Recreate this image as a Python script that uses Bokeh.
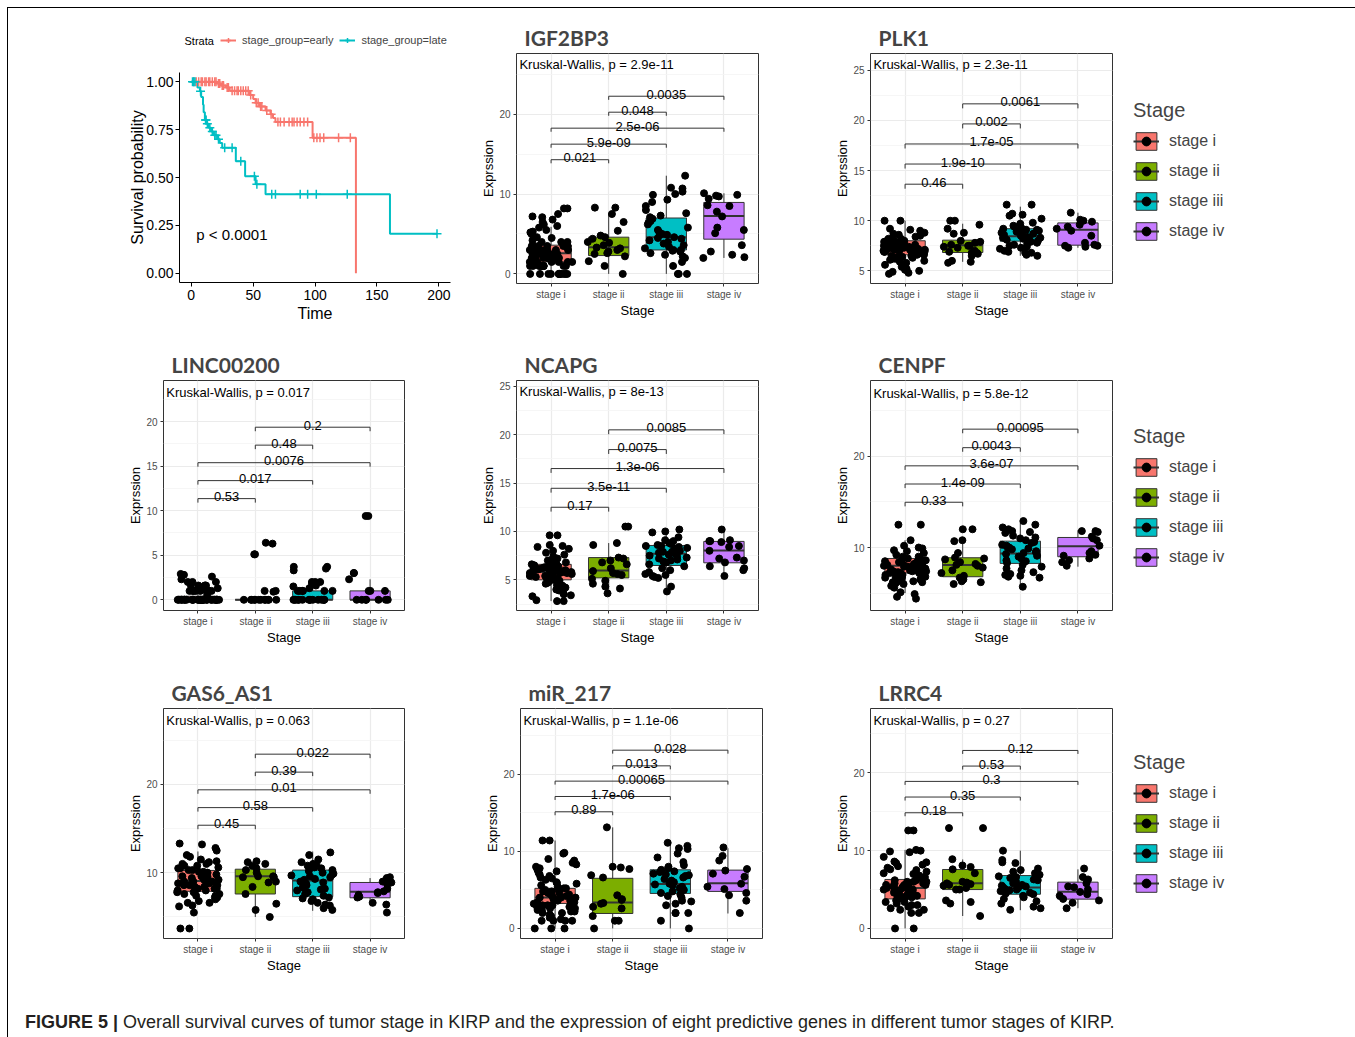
from bokeh.plotting import figure
from bokeh.models import (ColumnDataSource, FactorRange, Range1d, FixedTicker, Legend,
                          LegendItem, Div, Label, NumeralTickFormatter, Spacer)
from bokeh.layouts import row, column
from bokeh.transform import jitter, dodge
from bokeh.embed import file_html
from bokeh.resources import INLINE
from bokeh.core.properties import value

# ------------------------------------------------------------------ data
STAGES = ["stage i", "stage ii", "stage iii", "stage iv"]
STAGE_COLORS = ["#F8766D", "#7CAE00", "#00BFC4", "#C77CFF"]
PAIRS = [("stage i", "stage ii"), ("stage i", "stage iii"), ("stage i", "stage iv"),
         ("stage ii", "stage iii"), ("stage ii", "stage iv")]

# Kaplan-Meier curves (time, survival after the step)
early_time = [0, 21, 24, 28, 31, 47, 50, 52, 55, 60, 64, 66, 68, 98, 133]
early_surv = [1.0, 0.99, 0.98, 0.97, 0.953, 0.93, 0.91, 0.89, 0.87, 0.85, 0.83, 0.81, 0.79, 0.707, 0.0]
early_cens = [2, 4, 6, 8, 9, 11, 12, 14, 15, 17, 19, 20, 22, 23, 25, 26, 29, 30, 33, 35, 37, 38, 40,
              42, 44, 46, 48, 52.5, 54, 56, 57, 61, 64.5, 70, 72, 75, 79, 81.5, 83, 85.5, 88, 91, 94,
              99, 101.5, 104, 107, 119, 128.5]
late_time = [0, 5, 7, 8, 9.5, 10, 11, 12.5, 14, 16, 18, 21, 23, 25, 36, 43.5, 52, 60, 160.5, 198.5]
late_surv = [1.0, 0.97, 0.95, 0.92, 0.88, 0.84, 0.80, 0.78, 0.76, 0.74, 0.72, 0.70, 0.68, 0.655,
             0.585, 0.507, 0.465, 0.412, 0.206, 0.206]
late_cens = [1, 2, 3, 7.5, 11.5, 12, 13, 15, 17, 19, 20, 22, 27, 33, 40, 51, 53, 65, 68, 88, 94,
             101, 126, 198.5]
km_pval = "p < 0.0001"
km_groups = ["stage_group=early", "stage_group=late"]

# ---- IGF2BP3
IGF2BP3_i = [0, 0, 0, 0, 0, 0, 0, 0, 0, 0, 0, 0, 1, 1, 1, 1, 1, 1, 1, 1, 1, 1, 1.5, 1.5, 1.5, 1.5, 1.5, 1.5,
             2, 2, 2, 2, 2, 2, 2, 2, 2, 2, 2.5, 2.5, 2.5, 2.5, 2.5, 2.5, 2.5, 2.5, 3, 3, 3, 3, 3, 3, 3, 3, 3, 3,
             3.5, 3.5, 3.5, 3.5, 3.5, 3.5, 3.5, 3.5, 4, 4, 4, 4.2, 4.5, 4.6, 5, 5.2, 5.3, 5.5, 5.8, 6,
             6.2, 6.5, 6.8, 7.1, 7.2, 7.5, 8.2, 8.2]
IGF2BP3_ii = [8.3, 8.3, 7.5, 6.5, 5.4, 4.8, 4.6, 4.4, 4.0, 3.9, 3.6, 3.3, 3.2, 3.0, 2.8, 2.6, 2.5, 2.2,
              1.6, 1.0, 0.0]
IGF2BP3_iii = [12.3, 10.8, 10.7, 10.3, 10.0, 9.9, 9.3, 9.0, 8.5, 8.0, 7.6, 7.3, 7.1, 6.9, 6.6, 6.4, 6.2,
               5.8, 5.5, 5.2, 5.0, 4.9, 4.6, 4.5, 4.4, 4.2, 4.0, 3.8, 3.6, 3.4, 3.2, 3.0, 3.0, 2.9, 2.8,
               2.6, 2.4, 2.2, 2.0, 1.5, 1.0, 0, 0, 0]
IGF2BP3_iv = [10.1, 9.9, 9.8, 9.7, 9.4, 8.6, 8.5, 7.8, 7.2, 5.8, 5.5, 5.1, 3.6, 2.8, 2.4, 2.1, 2.0]
IGF2BP3_stats = dict(lo=[0, 0, 0, 2.0], q1=[1.5, 2.3, 3.0, 4.35], med=[2.6, 3.35, 4.6, 7.25],
                     q3=[3.6, 4.6, 7.0, 8.95], hi=[5.9, 7.45, 12.3, 10.1])
IGF2BP3_kw = ("Kruskal-Wallis, p = 2.9e-11", 26.2)
IGF2BP3_br_y = [14.3, 16.25, 18.25, 20.25, 22.25]
IGF2BP3_br_p = ["0.021", "5.9e-09", "2.5e-06", "0.048", "0.0035"]

# ---- PLK1
PLK1_i = [4.7, 4.8, 4.9, 5.0, 5.1, 5.2, 5.4, 5.5, 5.6, 5.8, 5.9, 6.0, 6.1, 6.2, 6.2, 6.3, 6.4, 6.4, 6.5,
          6.5, 6.6, 6.6, 6.6, 6.7, 6.8, 6.8, 6.8, 6.9, 6.9, 6.9, 7.0, 7.0, 7.0, 7.0, 7.1, 7.1, 7.1, 7.2,
          7.2, 7.2, 7.2, 7.3, 7.3, 7.3, 7.3, 7.4, 7.4, 7.4, 7.5, 7.5, 7.5, 7.5, 7.6, 7.6, 7.6, 7.7, 7.7,
          7.7, 7.8, 7.8, 7.8, 7.9, 7.9, 8.0, 8.0, 8.0, 8.1, 8.1, 8.2, 8.2, 8.4, 8.5, 8.6, 8.7, 8.8,
          9.0, 9.1, 9.2, 10.0, 10.0]
PLK1_ii = [10.0, 10.0, 9.6, 9.2, 8.8, 8.7, 8.0, 7.9, 7.8, 7.6, 7.5, 7.5, 7.4, 7.3, 7.0, 6.9, 6.8, 6.8,
           6.7, 6.5, 6.0, 5.9, 5.8]
PLK1_iii = [11.6, 11.6, 10.7, 10.6, 10.5, 10.2, 9.8, 9.7, 9.5, 9.4, 9.3, 9.2, 9.1, 9.1, 9.0, 8.9, 8.8,
            8.7, 8.7, 8.6, 8.5, 8.4, 8.3, 8.3, 8.2, 8.2, 8.1, 8.0, 7.9, 7.8, 7.7, 7.6, 7.5, 7.4, 7.3,
            7.2, 7.0, 6.9, 6.8, 6.8, 6.6, 6.5]
PLK1_iv = [10.8, 10.1, 10.0, 9.9, 9.6, 9.4, 9.2, 9.0, 8.5, 7.8, 7.6, 7.5, 7.5, 7.4, 7.3]
PLK1_stats = dict(lo=[4.7, 5.9, 6.5, 7.3], q1=[6.6, 6.83, 7.96, 7.56], med=[7.3, 7.56, 8.46, 9.1],
                  q3=[8.0, 8.06, 9.2, 9.78], hi=[10.0, 9.7, 11.4, 10.8])
PLK1_kw = ("Kruskal-Wallis, p = 2.3e-11", 25.6)
PLK1_br_y = [13.64, 15.65, 17.65, 19.65, 21.65]
PLK1_br_p = ["0.46", "1.9e-10", "1.7e-05", "0.002", "0.0061"]

# ---- LINC00200
LINC00200_i = [0, 0, 0, 0, 0, 0, 0, 0, 0, 0, 0, 0, 0, 0, 0, 0, 0, 0, 0, 0, 0, 0, 0, 0, 0, 0, 0, 0, 0, 0,
               1.0, 1.0, 1.0, 1.0, 1.0, 1.0, 1.0, 1.0, 1.0, 1.0, 1.6, 1.6, 1.6, 1.6, 1.6, 2.0, 2.0, 2.0,
               0.5, 1.3, 2.3, 2.6, 2.8, 2.9]
LINC00200_ii = [0, 0, 0, 0, 0, 0, 0, 0, 0, 0, 0, 0, 1.0, 1.0, 0.9, 5.1, 5.1, 6.3, 6.4]
LINC00200_iii = [0, 0, 0, 0, 0, 0, 0, 0, 0, 0, 0, 0, 0, 0, 0, 1.0, 1.0, 1.0, 1.0, 1.0, 1.0, 1.3, 1.5,
                 1.6, 1.8, 2.0, 2.0, 2.0, 3.3, 3.5, 3.7, 3.7]
LINC00200_iv = [9.4, 9.4, 3.0, 3.0, 2.3, 1.0, 1.0, 1.0, 0, 0, 0, 0, 0, 0, 0]
LINC00200_stats = dict(lo=[0, 0, 0, 0], q1=[0, 0, 0, 0], med=[0, 0, 0, 0],
                       q3=[0.4, 0, 1.0, 1.0], hi=[1.0, 0, 2.3, 2.3])
LINC00200_kw = ("Kruskal-Wallis, p = 0.017", 23.3)
LINC00200_br_y = [11.35, 13.37, 15.38, 17.35, 19.36]
LINC00200_br_p = ["0.53", "0.017", "0.0076", "0.48", "0.2"]

# ---- NCAPG
NCAPG_i = [2.8, 2.8, 2.9, 3.3, 3.4, 3.5, 3.6, 3.9, 4.0, 4.2, 4.4, 4.5, 4.6, 4.7, 4.8, 4.9, 5.0, 5.0, 5.0,
           5.1, 5.2, 5.2, 5.3, 5.3, 5.4, 5.4, 5.5, 5.5, 5.5, 5.6, 5.6, 5.7, 5.7, 5.7, 5.8, 5.8, 5.8,
           5.9, 5.9, 5.9, 6.0, 6.0, 6.0, 6.1, 6.1, 6.2, 6.2, 6.2, 6.3, 6.3, 6.4, 6.4, 6.5, 6.5, 6.6,
           6.6, 6.8, 6.8, 7.0, 7.0, 7.2, 7.4, 7.6, 7.8, 8.0, 8.2, 8.4, 8.5, 8.6, 9.6, 9.6]
NCAPG_ii = [10.5, 10.5, 8.8, 8.6, 7.3, 7.2, 7.0, 6.8, 6.6, 6.2, 5.9, 5.7, 5.6, 5.5, 5.1, 4.9, 4.6, 4.3,
            4.1, 3.6]
NCAPG_iii = [10.2, 10.0, 9.9, 9.4, 9.1, 9.0, 8.8, 8.7, 8.6, 8.5, 8.5, 8.4, 8.3, 8.2, 8.1, 8.0, 7.9, 7.9,
             7.8, 7.7, 7.6, 7.5, 7.4, 7.3, 7.2, 7.1, 7.0, 6.9, 6.8, 6.6, 6.4, 6.2, 6.0, 5.8, 5.6, 5.5,
             5.4, 5.3, 5.2, 4.3, 3.8]
NCAPG_iv = [10.2, 9.1, 9.0, 9.0, 8.9, 8.5, 8.4, 8.0, 7.3, 7.2, 7.0, 6.8, 6.4, 6.2, 6.0, 5.4]
NCAPG_stats = dict(lo=[2.8, 3.65, 3.9, 5.5], q1=[5.0, 5.2, 6.48, 6.76], med=[5.8, 5.97, 7.7, 8.03],
                   q3=[6.6, 7.3, 8.55, 8.97], hi=[9.0, 8.8, 10.0, 10.1])
NCAPG_kw = ("Kruskal-Wallis, p = 8e-13", 24.45)
NCAPG_br_y = [12.5, 14.46, 16.5, 18.46, 20.5]
NCAPG_br_p = ["0.17", "3.5e-11", "1.3e-06", "0.0075", "0.0085"]

# ---- CENPF
CENPF_i = [4.4, 4.6, 4.9, 5.1, 5.6, 5.8, 6.0, 6.1, 6.2, 6.2, 6.3, 6.3, 6.5, 6.5, 6.7, 6.7, 6.8, 6.8, 7.0,
           7.0, 7.0, 7.1, 7.1, 7.2, 7.2, 7.2, 7.3, 7.3, 7.4, 7.4, 7.4, 7.5, 7.5, 7.5, 7.6, 7.6, 7.6,
           7.7, 7.7, 7.8, 7.8, 7.8, 7.9, 7.9, 7.9, 8.0, 8.0, 8.0, 8.1, 8.1, 8.2, 8.2, 8.2, 8.3, 8.3,
           8.4, 8.4, 8.5, 8.5, 8.6, 8.6, 8.8, 8.8, 9.0, 9.0, 9.2, 9.4, 9.6, 9.7, 9.9, 10.0, 10.2,
           10.8, 12.5, 12.5]
CENPF_ii = [12.0, 12.0, 10.8, 10.7, 9.4, 8.9, 8.8, 8.7, 8.4, 8.2, 8.1, 8.0, 7.8, 7.5, 7.2, 6.9, 6.7, 6.5,
            6.3, 6.2, 6.0]
CENPF_iii = [12.9, 12.5, 12.2, 12.0, 11.8, 11.7, 11.6, 11.3, 11.1, 11.0, 10.8, 10.6, 10.5, 10.3, 10.2,
             10.1, 10.0, 9.9, 9.8, 9.6, 9.5, 9.4, 9.3, 9.1, 9.0, 8.8, 8.6, 8.5, 8.3, 8.1, 7.9, 7.7, 7.5,
             7.3, 7.1, 7.0, 6.9, 6.8, 6.7, 5.7]
CENPF_iv = [11.8, 11.8, 11.7, 11.2, 11.0, 10.8, 10.2, 9.6, 9.4, 9.2, 9.1, 8.8, 8.6, 8.4, 8.0]
CENPF_stats = dict(lo=[5.0, 6.1, 5.7, 7.9], q1=[7.2, 6.8, 8.26, 8.99], med=[8.0, 8.08, 9.35, 10.15],
                   q3=[8.8, 8.88, 10.7, 11.1], hi=[10.8, 10.6, 13.0, 11.9])
CENPF_kw = ("Kruskal-Wallis, p = 5.8e-12", 26.9)
CENPF_br_y = [14.96, 16.96, 18.95, 20.94, 22.97]
CENPF_br_p = ["0.33", "1.4e-09", "3.6e-07", "0.0043", "0.00095"]

# ---- GAS6_AS1
GAS6_AS1_i = [13.3, 13.2, 12.8, 12.5, 12.0, 11.8, 11.5, 11.3, 11.2, 11.0, 11.0, 10.8, 10.8, 10.6, 10.5,
              10.5, 10.3, 10.3, 10.1, 10.1, 10.0, 10.0, 10.0, 9.8, 9.8, 9.6, 9.6, 9.6, 9.4, 9.4, 9.4,
              9.2, 9.2, 9.2, 9.0, 9.0, 9.0, 8.8, 8.8, 8.8, 8.6, 8.6, 8.6, 8.4, 8.4, 8.2, 8.2, 8.2, 8.0,
              8.0, 7.8, 7.8, 7.6, 7.6, 7.4, 7.4, 7.2, 7.2, 7.0, 6.8, 6.6, 6.6, 6.3, 6.2, 5.5, 3.7, 3.7]
GAS6_AS1_ii = [11.3, 11.2, 11.0, 10.8, 10.5, 10.3, 10.0, 9.6, 9.6, 9.5, 9.5, 9.0, 8.9, 8.4, 7.6, 6.5,
               5.8, 5.0]
GAS6_AS1_iii = [12.3, 12.0, 11.5, 11.2, 11.0, 11.0, 10.8, 10.6, 10.5, 10.3, 10.2, 10.0, 9.9, 9.8, 9.7,
                9.6, 9.5, 9.3, 9.2, 9.0, 8.9, 8.8, 8.6, 8.4, 8.3, 8.2, 8.1, 8.0, 7.8, 7.6, 7.4, 7.2,
                7.1, 7.0, 6.8, 6.6, 6.4, 6.3, 6.0, 5.8]
GAS6_AS1_iv = [9.5, 9.4, 9.0, 8.9, 8.7, 8.2, 7.9, 7.8, 7.7, 7.5, 7.3, 7.2, 6.6, 6.4, 5.5]
GAS6_AS1_stats = dict(lo=[6.4, 5.0, 5.7, 6.6], q1=[7.9, 7.6, 7.3, 7.17], med=[9.06, 9.6, 9.13, 7.85],
                      q3=[10.26, 10.4, 10.3, 8.9], hi=[12.4, 11.5, 12.4, 9.4])
GAS6_AS1_kw = ("Kruskal-Wallis, p = 0.063", 27.26)
GAS6_AS1_br_y = [15.37, 17.36, 19.37, 21.37, 23.4]
GAS6_AS1_br_p = ["0.45", "0.58", "0.01", "0.39", "0.022"]

# ---- miR_217
miR_217_i = [11.4, 11.4, 9.8, 9.7, 9.0, 8.8, 8.5, 8.3, 8.0, 7.8, 7.6, 7.4, 7.2, 7.0, 6.8, 6.6, 6.5, 6.3,
             6.0, 5.9, 5.8, 5.6, 5.4, 5.2, 5.2, 5.0, 5.0, 4.8, 4.8, 4.6, 4.6, 4.4, 4.4, 4.2, 4.2, 4.0,
             4.0, 4.0, 3.8, 3.8, 3.6, 3.6, 3.4, 3.4, 3.2, 3.2, 3.0, 3.0, 3.0, 2.8, 2.8, 2.6, 2.6, 2.4,
             2.4, 2.2, 2.2, 2.0, 2.0, 1.8, 1.6, 1.4, 1.2, 1.0, 1.0, 1.0, 1.0, 0, 0, 0]
miR_217_ii = [13.1, 8.0, 7.9, 7.7, 6.9, 6.6, 4.3, 3.8, 3.7, 3.3, 3.2, 2.8, 2.6, 1.6, 1.0, 1.0, 0]
miR_217_iii = [11.1, 10.7, 10.4, 10.3, 9.7, 9.2, 8.6, 8.2, 8.0, 7.8, 7.6, 7.4, 7.3, 7.1, 7.0, 6.9, 6.8,
               6.6, 6.4, 6.2, 6.0, 5.8, 5.7, 5.6, 5.4, 5.2, 5.0, 4.8, 4.6, 4.4, 4.2, 4.0, 3.6, 3.5, 3.2,
               3.0, 2.0, 2.0, 2.0, 1.0, 0]
miR_217_iv = [10.5, 9.4, 8.8, 7.7, 7.5, 7.1, 6.7, 5.8, 5.4, 5.1, 4.6, 4.3, 3.6, 2.0]
miR_217_stats = dict(lo=[0, 0, 0, 1.94], q1=[3.24, 1.94, 4.54, 4.8], med=[4.0, 3.37, 5.75, 5.87],
                     q3=[5.2, 6.5, 7.6, 7.56], hi=[11.4, 13.1, 11.0, 10.4])
miR_217_kw = ("Kruskal-Wallis, p = 1.1e-06", 26.9)
miR_217_br_y = [15.12, 17.1, 19.09, 21.07, 23.1]
miR_217_br_p = ["0.89", "1.7e-06", "0.00065", "0.013", "0.028"]

# ---- LRRC4
LRRC4_i = [12.6, 12.6, 10.1, 10.0, 9.9, 9.8, 9.2, 8.6, 8.5, 8.4, 8.2, 8.0, 7.8, 7.6, 7.5, 7.3, 7.1, 7.0,
           6.8, 6.6, 6.4, 6.4, 6.2, 6.2, 6.0, 6.0, 6.0, 5.8, 5.8, 5.6, 5.6, 5.6, 5.4, 5.4, 5.4, 5.2,
           5.2, 5.2, 5.0, 5.0, 5.0, 4.8, 4.8, 4.6, 4.6, 4.6, 4.4, 4.4, 4.2, 4.2, 4.0, 4.0, 3.8, 3.8,
           3.6, 3.4, 3.4, 3.2, 3.0, 3.0, 2.8, 2.6, 2.4, 2.4, 2.0, 2.0, 0, 0]
LRRC4_ii = [12.9, 12.9, 8.9, 8.1, 7.9, 7.6, 7.1, 6.0, 5.9, 5.8, 5.7, 5.6, 5.5, 5.2, 5.0, 5.0, 3.6, 3.4,
            3.2, 1.6]
LRRC4_iii = [10.0, 8.8, 8.5, 8.4, 7.7, 7.5, 7.3, 7.1, 7.0, 6.9, 6.7, 6.6, 6.5, 6.3, 6.2, 6.0, 5.9, 5.8,
             5.6, 5.5, 5.4, 5.3, 5.2, 5.1, 5.0, 4.9, 4.8, 4.6, 4.5, 4.4, 4.2, 4.0, 3.8, 3.5, 3.2, 2.8,
             2.6, 2.4]
LRRC4_iv = [7.7, 6.6, 6.3, 5.8, 5.4, 5.3, 5.0, 4.7, 4.4, 4.2, 3.8, 3.6, 3.3, 2.6]
LRRC4_stats = dict(lo=[0, 1.6, 2.35, 2.6], q1=[3.8, 5.0, 4.4, 3.77], med=[5.2, 5.82, 5.27, 4.71],
                   q3=[6.3, 7.58, 6.8, 5.95], hi=[10.1, 8.87, 10.0, 7.6])
LRRC4_kw = ("Kruskal-Wallis, p = 0.27", 26.7)
LRRC4_br_y = [14.87, 16.89, 18.9, 20.87, 22.88]
LRRC4_br_p = ["0.18", "0.35", "0.3", "0.53", "0.12"]

# y-axis ranges and tick labels per panel
y_ranges = {"IGF2BP3": (-1.2, 27.6), "PLK1": (3.74, 26.67), "LINC00200": (-1.2, 24.6),
            "NCAPG": (1.83, 25.6), "CENPF": (3.1, 28.3), "GAS6_AS1": (2.57, 28.56),
            "miR_217": (-1.3, 28.5), "LRRC4": (-1.29, 28.27)}
y_ticks = {"IGF2BP3": [0, 10, 20], "PLK1": [5, 10, 15, 20, 25], "LINC00200": [0, 5, 10, 15, 20],
           "NCAPG": [5, 10, 15, 20, 25], "CENPF": [10, 20], "GAS6_AS1": [10, 20],
           "miR_217": [0, 10, 20], "LRRC4": [0, 10, 20]}
y_minor = {"IGF2BP3": [5, 15, 25], "PLK1": [7.5, 12.5, 17.5, 22.5],
           "LINC00200": [2.5, 7.5, 12.5, 17.5, 22.5], "NCAPG": [2.5, 7.5, 12.5, 17.5, 22.5],
           "CENPF": [5, 15, 25], "GAS6_AS1": [5, 15, 25], "miR_217": [5, 15, 25], "LRRC4": [5, 15, 25]}

CAPTION_BOLD = "FIGURE 5 |"
CAPTION = ("Overall survival curves of tumor stage in KIRP and the expression of eight predictive "
           "genes in different tumor stages of KIRP.")

# ------------------------------------------------------------------ styling
SANS = "Liberation Sans"
TITLE_FONT = "Lato"
RED, CYAN = "#F8766D", "#00BFC4"
EDGE = "#333333"
BOX_W = 0.7
JIT_W = 0.75
TIP = 0.45
COMMON = dict(output_backend="svg", toolbar_location=None, frame_align=False)


def surv_at(times, survs, t):
    s = survs[0]
    for ti, si in zip(times, survs):
        if ti <= t:
            s = si
    return s


def km_curves(p, visible=True):
    l1 = p.step(x=early_time, y=early_surv, mode="after", line_color=RED, line_width=2, visible=visible)
    l2 = p.step(x=late_time, y=late_surv, mode="after", line_color=CYAN, line_width=2, visible=visible)
    c1 = p.scatter(x=early_cens, y=[surv_at(early_time, early_surv, t) for t in early_cens],
                   marker="cross", size=9, line_width=1.5, color=RED, visible=visible)
    c2 = p.scatter(x=late_cens, y=[surv_at(late_time, late_surv, t) for t in late_cens],
                   marker="cross", size=9, line_width=1.5, color=CYAN, visible=visible)
    return l1, l2, c1, c2


def km_panel(w, h, bl, br, bt, bb):
    p = figure(width=w, height=h, x_range=Range1d(-9.5, 209.4), y_range=Range1d(-0.048, 1.048),
               min_border_left=bl, min_border_right=br, min_border_top=bt, min_border_bottom=bb,
               **COMMON)
    p.outline_line_color = None
    p.grid.visible = False
    km_curves(p)
    p.add_layout(Label(x=4, y=0.2, text=km_pval, text_font=SANS, text_font_size="15px",
                       text_baseline="middle", text_align="left", text_color="black"))
    p.xaxis.ticker = FixedTicker(ticks=[0, 50, 100, 150, 200])
    p.yaxis.ticker = FixedTicker(ticks=[0, 0.25, 0.5, 0.75, 1.0])
    p.yaxis.formatter = NumeralTickFormatter(format="0.00")
    for ax in (p.xaxis, p.yaxis):
        ax.axis_line_color = "black"
        ax.axis_line_width = 1
        ax.major_tick_line_color = "black"
        ax.major_tick_out = 4
        ax.major_tick_in = 0
        ax.minor_tick_line_color = None
        ax.major_label_text_font = SANS
        ax.major_label_text_font_size = "14px"
        ax.major_label_text_color = "black"
        ax.axis_label_text_font = SANS
        ax.axis_label_text_font_size = "16px"
        ax.axis_label_text_font_style = "normal"
        ax.axis_label_text_color = "black"
    p.xaxis.axis_label = "Time"
    p.yaxis.axis_label = "Survival probability"
    p.xaxis.major_label_standoff = 3
    p.xaxis.axis_label_standoff = 2
    p.yaxis.major_label_standoff = 2
    p.yaxis.axis_label_standoff = -3
    return p


def km_legend(w, h):
    q = figure(width=w, height=h, x_range=Range1d(-9.5, 209.4), y_range=Range1d(-0.048, 1.048),
               x_axis_type=None, y_axis_type=None, min_border=0, **COMMON)
    q.outline_line_color = None
    l1, l2, c1, c2 = km_curves(q, visible=False)
    q.add_layout(Label(x=176, y=14, x_units="screen", y_units="screen", text="Strata",
                       text_font=SANS, text_font_size="11px", text_baseline="middle",
                       text_align="left", text_color="black"))
    leg = Legend(items=[LegendItem(label=km_groups[0], renderers=[l1, c1]),
                        LegendItem(label=km_groups[1], renderers=[l2, c2])],
                 orientation="horizontal", location=(212, 8),
                 label_text_font=SANS, label_text_font_size="11px",
                 glyph_width=16, glyph_height=12, spacing=6, label_standoff=6,
                 padding=0, margin=0, border_line_color=None, background_fill_alpha=0)
    q.add_layout(leg, "center")
    return q


def stage_legend(stats, w, h, loc):
    q = figure(width=w, height=h, x_range=FactorRange(factors=STAGES), y_range=Range1d(0, 1),
               x_axis_type=None, y_axis_type=None, min_border=0, **COMMON)
    q.outline_line_color = None
    src = ColumnDataSource(dict(stage=STAGES, color=STAGE_COLORS, **stats))
    b = q.vbar(x="stage", width=BOX_W, bottom="q1", top="q3", source=src, fill_color="color",
               line_color=EDGE, line_width=1, visible=False)
    m = q.segment(x0="stage", y0="med", x1="stage", y1="med", source=src, line_color=EDGE,
                  line_width=2, visible=False)
    d = q.scatter(x="stage", y="med", source=src, size=7, color="black", visible=False)
    items = [LegendItem(label=s, renderers=[b, m, d], index=i) for i, s in enumerate(STAGES)]
    leg = Legend(items=items, title="Stage", location=loc,
                 label_text_font=SANS, label_text_font_size="16px",
                 title_text_font=SANS, title_text_font_size="20px", title_text_font_style="normal",
                 glyph_width=26, glyph_height=22, spacing=8, label_standoff=10, title_standoff=8,
                 padding=10, margin=0, border_line_color=None, background_fill_alpha=0)
    q.add_layout(leg, "center")
    return q


def box_panel(name, pts, stats, kw, br_y, br_p, w, h, bl, br, bt, bb):
    ylo, yhi = y_ranges[name]
    p = figure(width=w, height=h,
               x_range=FactorRange(factors=STAGES, range_padding=0.05, range_padding_units="percent"),
               y_range=Range1d(ylo, yhi),
               min_border_left=bl, min_border_right=br, min_border_top=bt, min_border_bottom=bb,
               title=name, **COMMON)
    p.title.text_font = TITLE_FONT
    p.title.text_font_size = "21px"
    p.title.text_font_style = "bold"
    p.title.align = "left"
    p.title.offset = 8
    p.title.standoff = 8
    p.outline_line_color = EDGE
    p.outline_line_width = 1

    tk = FixedTicker(ticks=y_ticks[name], minor_ticks=y_minor[name])
    p.yaxis.ticker = tk
    p.ygrid.ticker = tk
    p.ygrid.grid_line_color = "#ebebeb"
    p.ygrid.grid_line_width = 1.2
    p.ygrid.minor_grid_line_color = "#f4f4f4"
    p.ygrid.minor_grid_line_width = 0.8
    p.xgrid.grid_line_color = "#ebebeb"
    p.xgrid.grid_line_width = 1.2
    for ax in (p.xaxis, p.yaxis):
        ax.axis_line_color = None
        ax.major_tick_line_color = EDGE
        ax.major_tick_out = 3
        ax.major_tick_in = 0
        ax.minor_tick_line_color = None
        ax.major_label_text_font = SANS
        ax.major_label_text_font_size = "10px"
        ax.major_label_text_color = "#4d4d4d"
        ax.major_label_standoff = 2
        ax.axis_label_text_font = SANS
        ax.axis_label_text_font_size = "13px"
        ax.axis_label_text_font_style = "normal"
        ax.axis_label_text_color = "black"
        ax.axis_label_standoff = 0
    p.xaxis.axis_label = "Stage"
    p.yaxis.axis_label = "Exprssion"

    src_box = ColumnDataSource(dict(stage=STAGES, color=STAGE_COLORS, **stats))
    p.segment(x0="stage", y0="lo", x1="stage", y1="hi", source=src_box, line_color=EDGE, line_width=1)
    p.vbar(x="stage", width=BOX_W, bottom="q1", top="q3", source=src_box,
           fill_color="color", line_color=EDGE, line_width=1)
    p.segment(x0=dodge("stage", -BOX_W / 2, range=p.x_range), y0="med",
              x1=dodge("stage", BOX_W / 2, range=p.x_range), y1="med",
              source=src_box, line_color=EDGE, line_width=2)

    st, vals = [], []
    for s, v in zip(STAGES, pts):
        st += [s] * len(v)
        vals += v
    src_pts = ColumnDataSource(dict(stage=st, val=vals))
    p.scatter(x=jitter("stage", width=JIT_W, range=p.x_range), y="val", source=src_pts,
              size=7, color="black")

    a = [q[0] for q in PAIRS]
    b = [q[1] for q in PAIRS]
    span = [STAGES.index(y) - STAGES.index(x) for x, y in PAIRS]
    src_br = ColumnDataSource(dict(a=a, b=b, y=br_y, ytip=[v - TIP for v in br_y], lab=br_p))
    p.segment(x0="a", y0="y", x1="b", y1="y", source=src_br, line_color=EDGE, line_width=1)
    p.segment(x0="a", y0="y", x1="a", y1="ytip", source=src_br, line_color=EDGE, line_width=1)
    p.segment(x0="b", y0="y", x1="b", y1="ytip", source=src_br, line_color=EDGE, line_width=1)
    for s in (1, 2, 3):
        idx = [i for i, v in enumerate(span) if v == s]
        sub = ColumnDataSource(dict(a=[a[i] for i in idx], y=[br_y[i] for i in idx],
                                    lab=[br_p[i] for i in idx]))
        p.text(x=dodge("a", s / 2, range=p.x_range), y="y", text="lab", source=sub,
               text_font=value(SANS), text_font_size="13px", text_align="center",
               text_baseline="alphabetic", y_offset=-2, text_color="black")

    src_kw = ColumnDataSource(dict(k=[STAGES[0]], y=[kw[1]], t=[kw[0]]))
    p.text(x=dodge("k", -0.55, range=p.x_range), y="y", text="t", source=src_kw,
           text_font=value(SANS), text_font_size="13px", text_align="left", text_baseline="middle",
           text_color="black")
    return p


# ------------------------------------------------------------------ layout
r1 = row(
    column(km_legend(462, 46), km_panel(462, 282, 171, 20, 18, 54)),
    box_panel("IGF2BP3", [IGF2BP3_i, IGF2BP3_ii, IGF2BP3_iii, IGF2BP3_iv], IGF2BP3_stats, IGF2BP3_kw,
              IGF2BP3_br_y, IGF2BP3_br_p, 350, 328, 46, 62, 45, 53),
    box_panel("PLK1", [PLK1_i, PLK1_ii, PLK1_iii, PLK1_iv], PLK1_stats, PLK1_kw,
              PLK1_br_y, PLK1_br_p, 293, 328, 50, 1, 45, 53),
    stage_legend(PLK1_stats, 234, 328, (20, 94)),
)
r2 = row(
    box_panel("LINC00200", [LINC00200_i, LINC00200_ii, LINC00200_iii, LINC00200_iv], LINC00200_stats,
              LINC00200_kw, LINC00200_br_y, LINC00200_br_p, 462, 328, 155, 66, 44, 54),
    box_panel("NCAPG", [NCAPG_i, NCAPG_ii, NCAPG_iii, NCAPG_iv], NCAPG_stats, NCAPG_kw,
              NCAPG_br_y, NCAPG_br_p, 350, 328, 46, 62, 44, 54),
    box_panel("CENPF", [CENPF_i, CENPF_ii, CENPF_iii, CENPF_iv], CENPF_stats, CENPF_kw,
              CENPF_br_y, CENPF_br_p, 293, 328, 50, 1, 44, 54),
    stage_legend(CENPF_stats, 234, 328, (20, 96)),
)
r3 = row(
    box_panel("GAS6_AS1", [GAS6_AS1_i, GAS6_AS1_ii, GAS6_AS1_iii, GAS6_AS1_iv], GAS6_AS1_stats,
              GAS6_AS1_kw, GAS6_AS1_br_y, GAS6_AS1_br_p, 462, 326, 155, 66, 44, 52),
    box_panel("miR_217", [miR_217_i, miR_217_ii, miR_217_iii, miR_217_iv], miR_217_stats, miR_217_kw,
              miR_217_br_y, miR_217_br_p, 350, 326, 50, 58, 44, 52),
    box_panel("LRRC4", [LRRC4_i, LRRC4_ii, LRRC4_iii, LRRC4_iv], LRRC4_stats, LRRC4_kw,
              LRRC4_br_y, LRRC4_br_p, 293, 326, 50, 1, 44, 52),
    stage_legend(LRRC4_stats, 234, 326, (20, 96)),
)
caption = Div(
    text=('<div style="padding:17px 0 0 12px;font-family:\'Liberation Sans\',Arial,sans-serif;'
          'font-size:18px;line-height:20px;white-space:nowrap;color:#231f20;">'
          '<b>' + CAPTION_BOLD + '</b> ' + CAPTION + '</div>'),
    width=1339, height=39)

inner = column(r1, r2, r3, caption, styles={"box-shadow": "-1px -1px 0 0 #000000"})
page = row(Spacer(width=8), column(Spacer(height=8), inner))

with open("out.html", "w") as f:
    f.write(file_html(page, INLINE))
